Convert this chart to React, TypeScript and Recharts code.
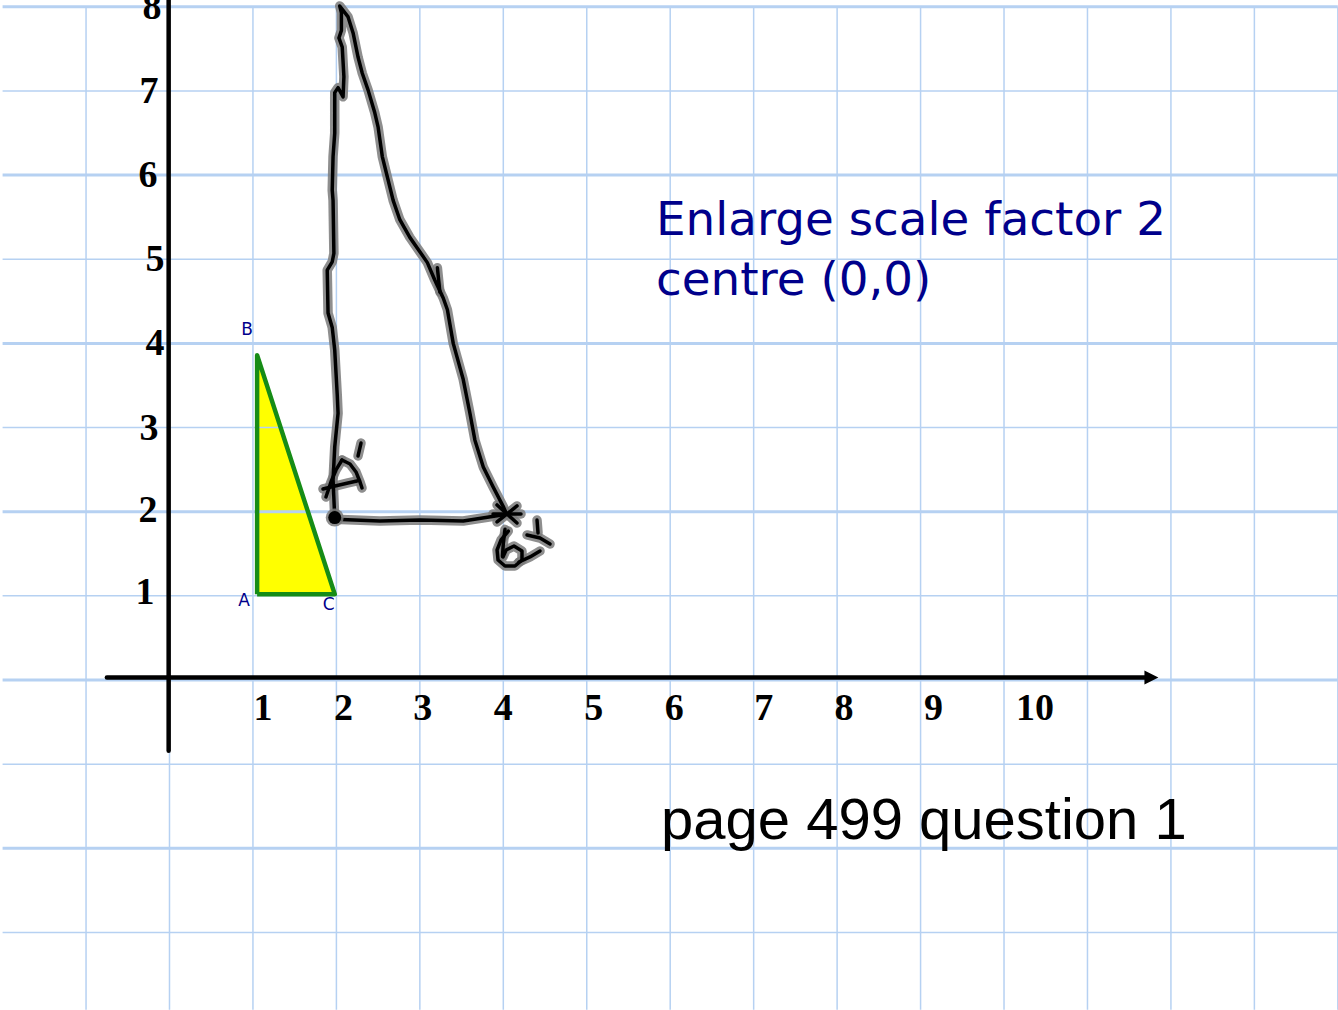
import { ComposedChart, XAxis, YAxis, ReferenceLine, Line, Area, Scatter } from 'recharts';

// grid paper: one square = one unit
const gridX = [-1, 0, 1, 2, 3, 4, 5, 6, 7, 8, 9, 10, 11, 12, 13, 14];
const gridY = [-3, -2, -1, 0, 1, 2, 3, 4, 5, 6, 7, 8];

const xTicks = ['1', '2', '3', '4', '5', '6', '7', '8', '9', '10'];
const yTicks = ['1', '2', '3', '4', '5', '6', '7', '8'];

// original triangle ABC
const triangle = [
  { name: 'A', x: 1.05, y: 1.02 },
  { name: 'B', x: 1.05, y: 3.86 },
  { name: 'C', x: 1.98, y: 1.02 },
];

// hand-drawn image A'B'C' (pen stroke)
const imageStroke: [number, number][] = [
  [1.98, 1.93], [1.96, 2.38], [1.98, 2.77], [2.02, 3.17], [2.01, 3.39], [1.98, 3.92],
  [1.95, 4.19], [1.9, 4.36], [1.89, 4.87], [1.95, 4.97], [1.97, 5.07], [1.96, 5.7],
  [1.95, 5.82], [1.96, 6.22], [1.98, 6.5], [1.98, 6.98], [2.02, 7.04], [2.08, 6.93],
  [2.09, 7.17], [2.07, 7.52], [2.03, 7.63], [2.06, 7.72], [2.06, 7.93], [2.04, 8.01],
  [2.14, 7.88], [2.2, 7.69], [2.26, 7.4], [2.31, 7.21], [2.38, 7.01], [2.46, 6.74],
  [2.5, 6.57], [2.55, 6.22], [2.61, 5.98], [2.68, 5.7], [2.76, 5.47], [2.88, 5.26],
  [3.0, 5.09], [3.09, 4.96], [3.18, 4.75], [3.28, 4.54], [3.33, 4.4], [3.4, 4.0],
  [3.52, 3.57], [3.6, 3.17], [3.66, 2.85], [3.76, 2.53], [3.88, 2.29], [4.0, 2.06],
  [4.04, 1.97], [3.52, 1.89], [3.0, 1.9], [2.52, 1.89], [1.98, 1.91],
];
const penBump: [number, number][] = [[3.21, 4.9], [3.24, 4.61]];

// handwritten A'
const aLeft: [number, number][] = [[1.875, 2.175], [1.935, 2.353], [1.995, 2.496], [2.067, 2.614]];
const aRight: [number, number][] = [[2.067, 2.614], [2.163, 2.567], [2.235, 2.472], [2.283, 2.353], [2.307, 2.282]];
const aBar: [number, number][] = [[1.839, 2.27], [1.983, 2.305], [2.139, 2.341], [2.247, 2.365]];
const aPrime: [number, number][] = [[2.259, 2.662], [2.295, 2.816]];

// handwritten B'
const bStem: [number, number][] = [[4.02, 1.79], [4.0, 1.62], [3.99, 1.47]];
const bLoop: [number, number][] = [
  [4.06, 1.77], [3.973, 1.664], [3.925, 1.545], [3.937, 1.426], [4.02, 1.355], [4.14, 1.355],
  [4.224, 1.426], [4.224, 1.533], [4.128, 1.592], [4.033, 1.545], [3.996, 1.462],
];
const bTail: [number, number][] = [[4.188, 1.402], [4.32, 1.462], [4.44, 1.533]];
const bPrime: [number, number][] = [[4.404, 1.901], [4.416, 1.747]];
const bDiag: [number, number][] = [[4.284, 1.723], [4.44, 1.687], [4.56, 1.616]];

// cross marking C'
const star1: [number, number][] = [[3.925, 2.08], [4.164, 1.866]];
const star2: [number, number][] = [[3.925, 1.878], [4.164, 2.068]];
const star3: [number, number][] = [[3.877, 1.973], [4.212, 1.973]];

// dot marking A'
const penDots = [{ x: 1.98, y: 1.93 }];

const notes = [
  { x: 5.83, y: 5.29, text: 'Enlarge scale factor 2', kind: 'blue' },
  { x: 5.83, y: 4.58, text: 'centre (0,0)', kind: 'blue' },
  { x: 5.89, y: -1.89, text: 'page 499 question 1', kind: 'black' },
];

const W = 1338;
const H = 1010;
const X_DOMAIN: [number, number] = [-2.031, 14.002];
const Y_DOMAIN: [number, number] = [-3.922, 8.081];

const GRID = '#b6d1f2';
const NAVY = '#00008b';
const Y_LABEL_DX = [-24.5, -21.5, -20.5, -14.5, -14.5, -21.5, -20.5, -17.5];
const Y_LABEL_DY = [8, 10, 12, 12, 12, 12, 12, 12];
const X_LABEL_DX = [10, 7, 3, 0, 7, 4, 10, 7, 13, 31];
const VERTEX_LABEL: Record<string, [number, number]> = { A: [-13, 12], B: [-10, -20], C: [-6, 16] };

const toPts = (s: [number, number][]) => s.map(([x, y]) => ({ x, y }));

const penStrokes = [imageStroke, penBump, aLeft, aRight, aBar, aPrime, bStem, bLoop, bTail, bPrime, bDiag, star1, star2, star3];

function ArrowAxis(props: any) {
  const { x1, y1, x2, y2 } = props;
  return (
    <g>
      <line x1={x1} y1={y1} x2={x2 - 8} y2={y2} stroke="#000" strokeWidth={4.5} strokeLinecap="round" />
      <polygon points={`${x2},${y2} ${x2 - 14},${y2 - 7} ${x2 - 14},${y2 + 7}`} fill="#000" />
    </g>
  );
}

export default function App() {
  const triOutline = [...triangle, triangle[0]].map((p) => ({ x: p.x, y: p.y }));
  const triFill = [
    { x: triangle[0].x, lo: triangle[0].y, hi: triangle[1].y },
    { x: triangle[2].x, lo: triangle[2].y, hi: triangle[2].y },
  ];
  const xLabelData = xTicks.map((t, i) => ({ x: Number(t), y: 0, t, dx: X_LABEL_DX[i] }));
  const yLabelData = yTicks.map((t, i) => ({ x: 0, y: Number(t), t, dx: Y_LABEL_DX[i], dy: Y_LABEL_DY[i] }));

  return (
    <div style={{ position: 'absolute', left: 0, top: 0, width: W, height: H, background: '#fff' }}>
      <ComposedChart width={W} height={H} margin={{ top: 0, right: 0, bottom: 0, left: 0 }}>
        <XAxis type="number" dataKey="x" domain={X_DOMAIN} allowDataOverflow hide />
        <YAxis type="number" dataKey="y" domain={Y_DOMAIN} allowDataOverflow hide />

        {gridY.map((v) => (
          <ReferenceLine
            key={`gy${v}`}
            segment={[{ x: -2, y: v }, { x: 14, y: v }]}
            stroke={GRID}
            strokeWidth={v % 2 === 0 ? 3 : 1.5}
            ifOverflow="visible"
          />
        ))}
        {gridX.map((v) => (
          <ReferenceLine
            key={`gx${v}`}
            segment={[{ x: v, y: -3.92 }, { x: v, y: 8 }]}
            stroke={GRID}
            strokeWidth={1.5}
            ifOverflow="visible"
          />
        ))}

        {/* axes */}
        <ReferenceLine segment={[{ x: -0.75, y: 0.03 }, { x: 11.85, y: 0.03 }]} shape={ArrowAxis} ifOverflow="visible" />
        <ReferenceLine
          segment={[{ x: -0.01, y: 8.08 }, { x: -0.01, y: -0.84 }]}
          stroke="#000"
          strokeWidth={4.5}
          strokeLinecap="round"
          ifOverflow="visible"
        />

        <Scatter
          data={xLabelData}
          isAnimationActive={false}
          shape={(p: any) => (
            <text x={p.cx + p.payload.dx} y={p.cy + 40} textAnchor="middle" fontFamily="'Liberation Serif', serif" fontWeight="bold" fontSize={38} fill="#000">
              {p.payload.t}
            </text>
          )}
        />
        <Scatter
          data={yLabelData}
          isAnimationActive={false}
          shape={(p: any) => (
            <text x={p.cx + p.payload.dx} y={p.cy + p.payload.dy} textAnchor="middle" fontFamily="'Liberation Serif', serif" fontWeight="bold" fontSize={38} fill="#000">
              {p.payload.t}
            </text>
          )}
        />

        {/* triangle ABC */}
        <Area
          data={triFill}
          dataKey={(d: any) => [d.lo, d.hi]}
          type="linear"
          fill="#ffff00"
          fillOpacity={1}
          stroke="none"
          isAnimationActive={false}
        />
        <Line
          data={triOutline}
          dataKey="y"
          type="linear"
          stroke="#168c16"
          strokeWidth={4.5}
          strokeLinejoin="round"
          dot={false}
          activeDot={false}
          isAnimationActive={false}
        />
        <Scatter
          data={triangle}
          isAnimationActive={false}
          shape={(p: any) => {
            const [dx, dy] = VERTEX_LABEL[p.payload.name];
            return (
              <text x={p.cx + dx} y={p.cy + dy} textAnchor="middle" fontFamily="'DejaVu Sans', sans-serif" fontSize={17} fill={NAVY}>
                {p.payload.name}
              </text>
            );
          }}
        />

        {/* pen strokes: grey halo then black ink */}
        {penStrokes.map((s, i) => (
          <Line
            key={`h${i}`}
            data={toPts(s)}
            dataKey="y"
            type="linear"
            stroke="#7a7a7a"
            strokeOpacity={0.85}
            strokeWidth={9.5}
            strokeLinecap="round"
            strokeLinejoin="round"
            dot={false}
            activeDot={false}
            isAnimationActive={false}
          />
        ))}
        {penStrokes.map((s, i) => (
          <Line
            key={`k${i}`}
            data={toPts(s)}
            dataKey="y"
            type="linear"
            stroke="#000"
            strokeWidth={3.5}
            strokeLinecap="round"
            strokeLinejoin="round"
            dot={false}
            activeDot={false}
            isAnimationActive={false}
          />
        ))}
        <Scatter
          data={penDots}
          isAnimationActive={false}
          shape={(p: any) => (
            <g>
              <circle cx={p.cx} cy={p.cy} r={9} fill="#7a7a7a" fillOpacity={0.85} />
              <circle cx={p.cx} cy={p.cy} r={6.5} fill="#000" />
            </g>
          )}
        />

        <Scatter
          data={notes}
          isAnimationActive={false}
          shape={(p: any) => {
            const blue = p.payload.kind === 'blue';
            return (
              <text
                x={p.cx}
                y={p.cy}
                fontFamily={blue ? "'DejaVu Sans', sans-serif" : "'Liberation Sans', Arial, sans-serif"}
                fontSize={blue ? 46.8 : 58}
                fill={blue ? NAVY : '#000'}
              >
                {p.payload.text}
              </text>
            );
          }}
        />
      </ComposedChart>
    </div>
  );
}
